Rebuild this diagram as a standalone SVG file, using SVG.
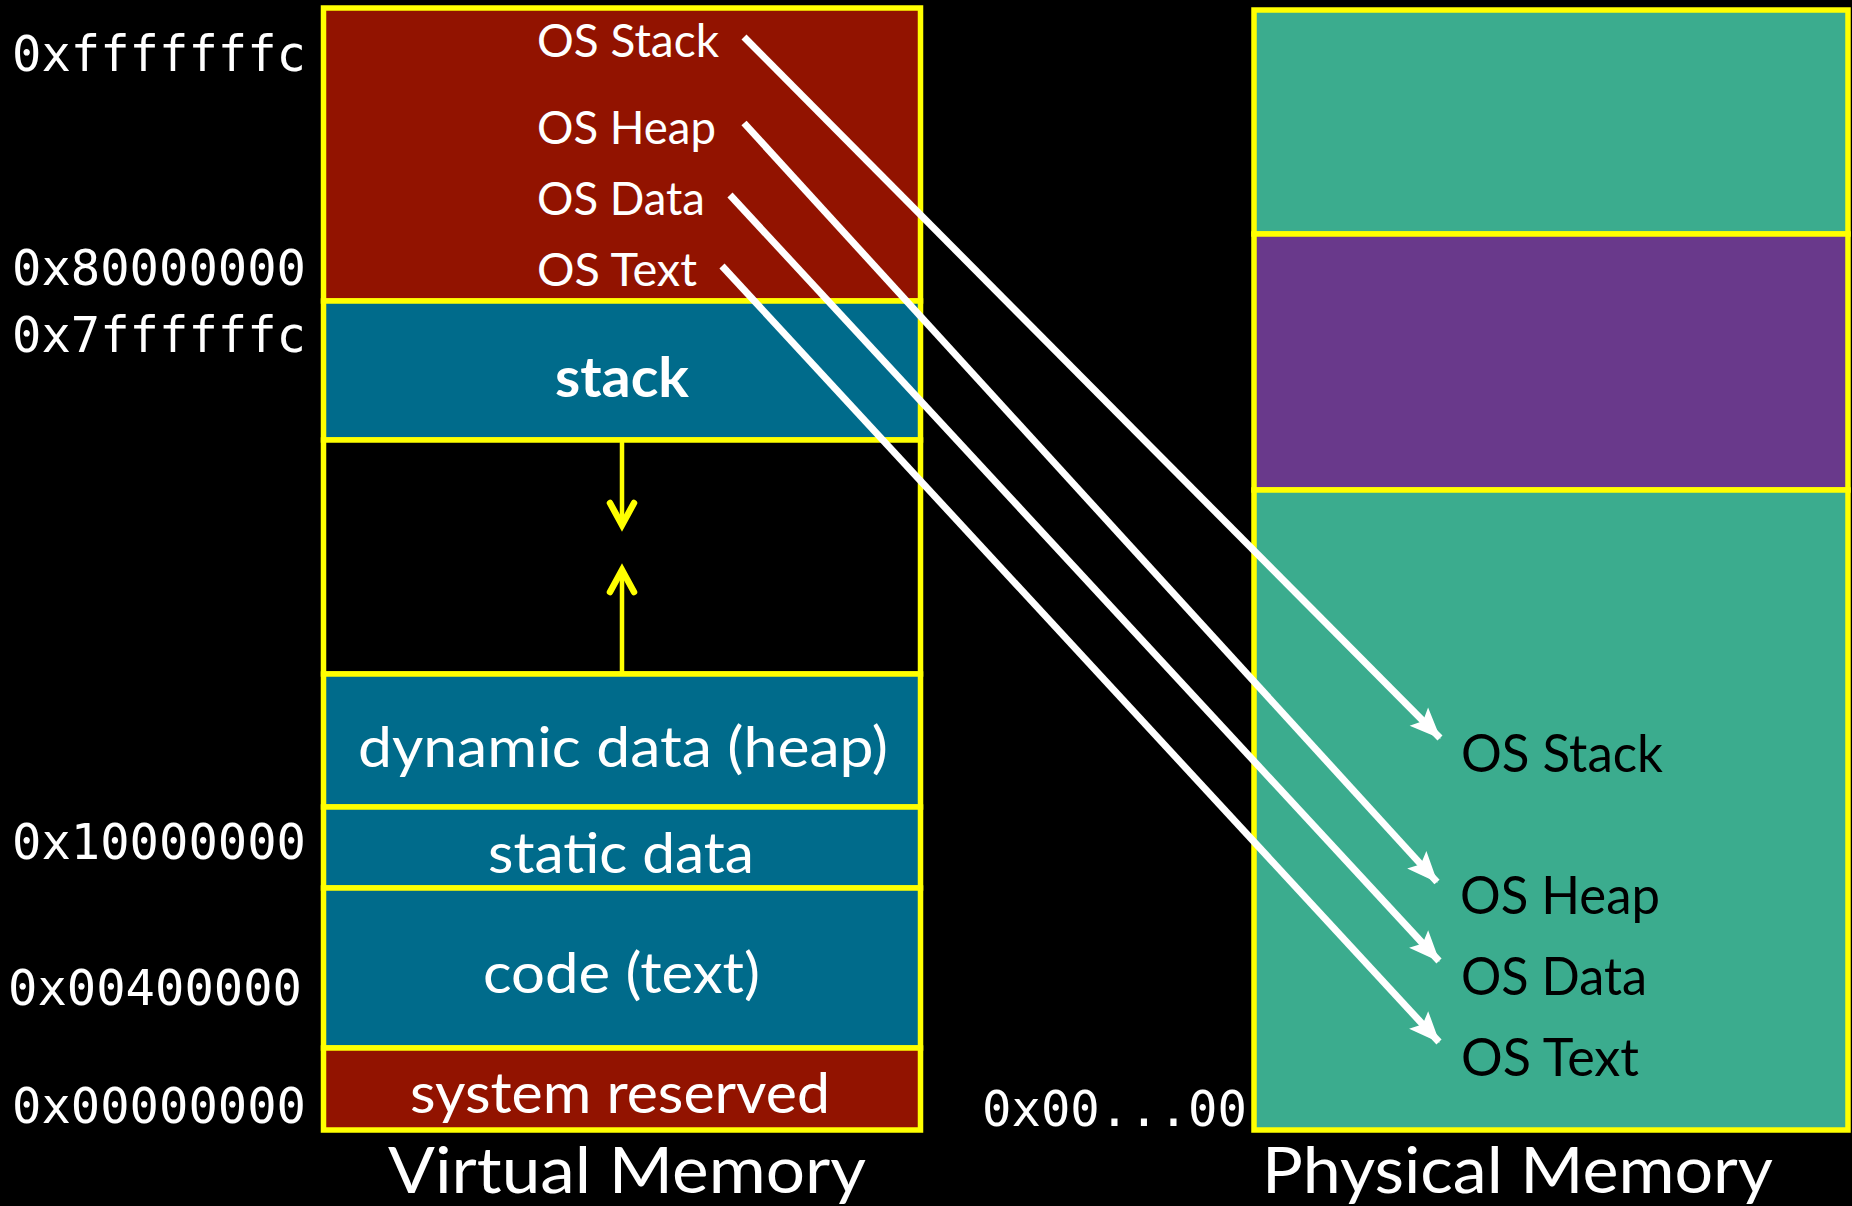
<svg xmlns="http://www.w3.org/2000/svg" width="1852" height="1206" viewBox="0 0 1852 1206">
<style>
.sec{stroke:#FFFF00;stroke-width:5.5}
.red{fill:#921300}.blue{fill:#006B8B}.green{fill:#3BAC8E}.purple{fill:#69398B}.blk{fill:#000}
.addr{font-family:"DejaVu Sans Mono",monospace;font-size:49px;fill:#fff}
.lbl{font-family:Lato,"Open Sans",sans-serif;fill:#fff}
.os{font-size:47px}
.pos{font-family:Lato,"Open Sans",sans-serif;font-size:52px;fill:#000}
.big{font-size:57px}
.title{font-size:64px}
.conn{stroke:#fff;stroke-width:7;fill:none;marker-end:url(#wh)}
.yarr{stroke:#FFFF00;stroke-width:4.5;fill:none;stroke-linecap:round;stroke-linejoin:round}
.yhead{stroke:#FFFF00;stroke-width:6.5;fill:none;stroke-linecap:round;stroke-linejoin:miter}
</style>
<defs>
<marker id="wh" markerUnits="userSpaceOnUse" markerWidth="34" markerHeight="34" viewBox="0 0 34 34" refX="31" refY="17" orient="auto">
<path d="M1,4 L32,17 L1,30 L7,17 Z" fill="#fff"/>
</marker>
</defs>
<rect width="1852" height="1206" fill="#000"/>

<g id="virtual-memory">
<g id="vm-os"><rect class="sec red" x="323.5" y="8" width="597" height="293"/>
<text class="lbl os" x="537" y="57" textLength="182" lengthAdjust="spacingAndGlyphs">OS Stack</text>
<text class="lbl os" x="537" y="144" textLength="179" lengthAdjust="spacingAndGlyphs">OS Heap</text>
<text class="lbl os" x="537" y="215" textLength="168" lengthAdjust="spacingAndGlyphs">OS Data</text>
<text class="lbl os" x="537" y="286" textLength="160" lengthAdjust="spacingAndGlyphs">OS Text</text></g>
<g id="vm-stack"><rect class="sec blue" x="323.5" y="301" width="597" height="139"/>
<text class="lbl" x="555" y="397" font-size="56" font-weight="bold" textLength="134" lengthAdjust="spacingAndGlyphs">stack</text></g>
<g id="vm-gap"><rect class="sec blk" x="323.5" y="440" width="597" height="234"/>
<path class="yarr" d="M622,443 V522"/>
<path class="yhead" d="M610,503 L622,525 L634,503"/>
<path class="yarr" d="M622,672 V573"/>
<path class="yhead" d="M610,592 L622,570 L634,592"/></g>
<g id="vm-heap"><rect class="sec blue" x="323.5" y="674" width="597" height="133"/>
<text class="lbl big" x="358" y="767" textLength="530" lengthAdjust="spacingAndGlyphs">dynamic data (heap)</text></g>
<g id="vm-static"><rect class="sec blue" x="323.5" y="807" width="597" height="81"/>
<text class="lbl big" x="488" y="873" textLength="266" lengthAdjust="spacingAndGlyphs">static data</text></g>
<g id="vm-code"><rect class="sec blue" x="323.5" y="888" width="597" height="160"/>
<text class="lbl big" x="483" y="993" textLength="277" lengthAdjust="spacingAndGlyphs">code (text)</text></g>
<g id="vm-reserved"><rect class="sec red" x="323.5" y="1048" width="597" height="82"/>
<text class="lbl big" x="410" y="1113" textLength="420" lengthAdjust="spacingAndGlyphs">system reserved</text></g>
<text class="lbl title" x="388" y="1193" textLength="478" lengthAdjust="spacingAndGlyphs">Virtual Memory</text>
</g>

<g id="addresses">
<text class="addr" x="12" y="71" textLength="294" lengthAdjust="spacingAndGlyphs">0xfffffffc</text>
<text class="addr" x="12" y="285" textLength="294" lengthAdjust="spacingAndGlyphs">0x80000000</text>
<text class="addr" x="12" y="352" textLength="294" lengthAdjust="spacingAndGlyphs">0x7ffffffc</text>
<text class="addr" x="12" y="859" textLength="294" lengthAdjust="spacingAndGlyphs">0x10000000</text>
<text class="addr" x="8" y="1005" textLength="294" lengthAdjust="spacingAndGlyphs">0x00400000</text>
<text class="addr" x="12" y="1123" textLength="294" lengthAdjust="spacingAndGlyphs">0x00000000</text>
<text class="addr" x="982" y="1126" textLength="265" lengthAdjust="spacingAndGlyphs">0x00...00</text>
</g>

<g id="physical-memory">
<g id="pm-top"><rect class="sec green" x="1254" y="10" width="594" height="224"/></g>
<g id="pm-mid"><rect class="sec purple" x="1254" y="234" width="594" height="256"/></g>
<g id="pm-low"><rect class="sec green" x="1254" y="490" width="594" height="640"/>
<text class="pos" x="1461" y="772" textLength="202" lengthAdjust="spacingAndGlyphs">OS Stack</text>
<text class="pos" x="1460" y="914" textLength="200" lengthAdjust="spacingAndGlyphs">OS Heap</text>
<text class="pos" x="1461" y="995" textLength="186" lengthAdjust="spacingAndGlyphs">OS Data</text>
<text class="pos" x="1461" y="1076" textLength="178" lengthAdjust="spacingAndGlyphs">OS Text</text></g>
<text class="lbl title" x="1262" y="1193" textLength="511" lengthAdjust="spacingAndGlyphs">Physical Memory</text>
</g>

<g id="connectors">
<path class="conn" d="M744,37 L1440,738"/>
<path class="conn" d="M744,123 L1437,882"/>
<path class="conn" d="M730,195 L1439,961"/>
<path class="conn" d="M722,266 L1439,1042"/>
</g>
</svg>
